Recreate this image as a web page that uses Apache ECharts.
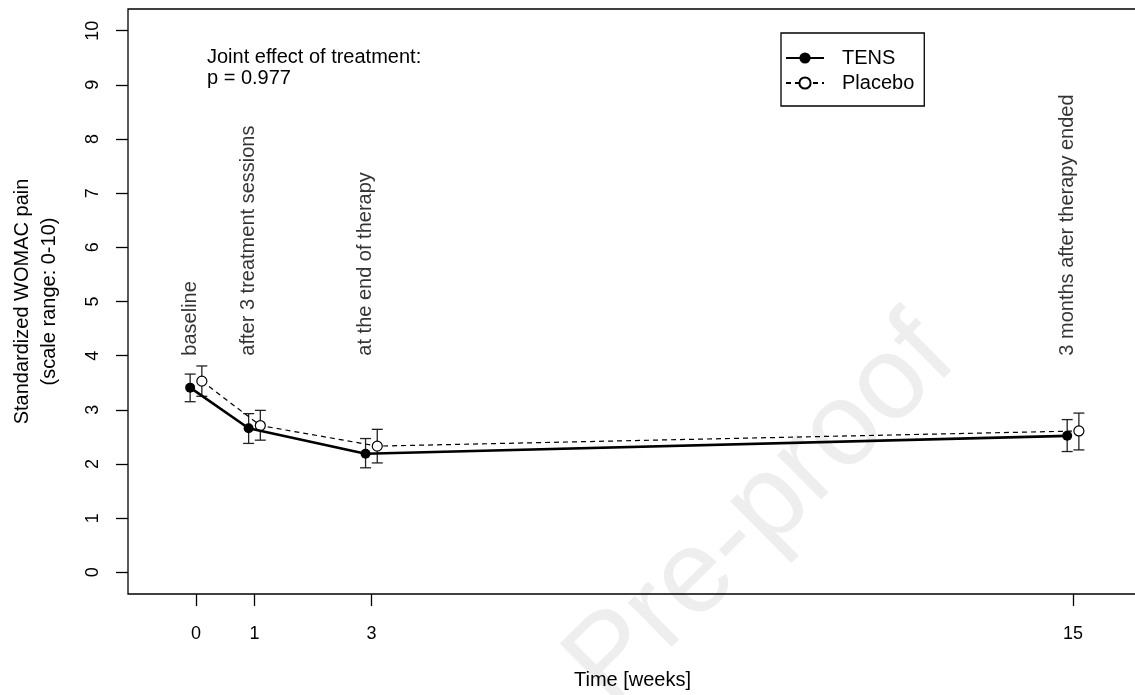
<!DOCTYPE html>
<html>
<head>
<meta charset="utf-8">
<script src="https://cdn.jsdelivr.net/npm/echarts@6/dist/echarts.min.js"></script>
<style>
  html, body { margin: 0; padding: 0; background: #fff; }
  #main { width: 1135px; height: 695px; }
</style>
</head>
<body>
<div id="main"></div>
<script>
// ▼ data
const aWeeks = [0, 1, 3, 15];
const aTens = [3.41, 2.66, 2.19, 2.52];
const aTensLow = [3.15, 2.38, 1.93, 2.23];
const aTensHigh = [3.66, 2.93, 2.47, 2.82];
const aPlacebo = [3.53, 2.71, 2.33, 2.61];
const aPlaceboLow = [3.25, 2.44, 2.02, 2.26];
const aPlaceboHigh = [3.81, 2.99, 2.64, 2.94];
const aYTicks = [0, 1, 2, 3, 4, 5, 6, 7, 8, 9, 10];
const aXTicks = [0, 1, 3, 15];
const aNotes = ['baseline', 'after 3 treatment sessions', 'at the end of therapy', '3 months after therapy ended'];
const iNoteY = 4;

const sFont = 'Liberation Sans, Arial, Helvetica, sans-serif';
const dodge = 0.1; // TENS a bit left, Placebo a bit right

const tensPts = aWeeks.map((w, i) => [w - dodge, aTens[i]]);
const placeboPts = aWeeks.map((w, i) => [w + dodge, aPlacebo[i]]);
const tensBars = aWeeks.map((w, i) => [w - dodge, aTensLow[i], aTensHigh[i]]);
const placeboBars = aWeeks.map((w, i) => [w + dodge, aPlaceboLow[i], aPlaceboHigh[i]]);
const notePts = aWeeks.map((w, i) => ({ value: [w, iNoteY], name: aNotes[i] }));

function errorBar(params, api) {
    const x = api.value(0);
    const lo = api.coord([x, api.value(1)]);
    const hi = api.coord([x, api.value(2)]);
    const w = 5.5;
    const st = { stroke: '#222', lineWidth: 1.3 };
    return {
        type: 'group',
        children: [
            { type: 'line', shape: { x1: lo[0], y1: lo[1], x2: hi[0], y2: hi[1] }, style: st },
            { type: 'line', shape: { x1: lo[0] - w, y1: lo[1], x2: lo[0] + w, y2: lo[1] }, style: st },
            { type: 'line', shape: { x1: hi[0] - w, y1: hi[1], x2: hi[0] + w, y2: hi[1] }, style: st },
        ],
    };
}

const myChart = echarts.init(document.getElementById('main'), null, { renderer: 'canvas' });
const option = {
    animation: false,
    backgroundColor: '#fff',
    textStyle: { fontFamily: sFont, color: '#000' },
    graphic: [
        {
            type: 'text', x: 762, y: 512, rotation: 0.78, z: -10, silent: true,
            style: { text: 'Pre-proof', font: '118px ' + sFont, fill: '#eeeeee', align: 'center', verticalAlign: 'middle' },
        },
        {
            type: 'text', left: 207, top: 47,
            style: { text: 'Joint effect of treatment:\np = 0.977', font: '20px ' + sFont, fill: '#000', lineHeight: 21 },
        },
    ],
    grid: {
        show: true, left: 128, top: 9, right: -2, bottom: 101,
        outerBoundsMode: 'none',
        borderColor: '#000', borderWidth: 1.3, backgroundColor: 'transparent',
    },
    legend: {
        orient: 'vertical', left: 781, top: 33,
        padding: [15, 10, 13, 4],
        borderColor: '#000', borderWidth: 1.3,
        itemWidth: 38, itemHeight: 14, itemGap: 5,
        textStyle: { fontSize: 20, fontFamily: sFont, color: '#000', padding: [0, 0, 0, 13] },
        data: ['TENS', 'Placebo'],
    },
    xAxis: {
        type: 'value', min: -1.163, max: 16.094,
        axisLine: { show: false, onZero: false },
        splitLine: { show: false },
        axisTick: { show: true, length: 12, customValues: aXTicks, lineStyle: { color: '#000', width: 1.3 } },
        axisLabel: { customValues: aXTicks, fontSize: 18, color: '#000', margin: 31, fontFamily: sFont },
        name: 'Time [weeks]', nameLocation: 'middle', nameGap: 76,
        nameTextStyle: { fontSize: 20, color: '#000', fontFamily: sFont },
    },
    yAxis: {
        type: 'value', min: -0.4, max: 10.4,
        axisLine: { show: false, onZero: false },
        splitLine: { show: false },
        axisTick: { show: true, length: 12, customValues: aYTicks, lineStyle: { color: '#000', width: 1.3 } },
        axisLabel: { customValues: aYTicks, rotate: 90, fontSize: 18, color: '#000', margin: 26, fontFamily: sFont },
        name: 'Standardized WOMAC pain\n(scale range: 0-10)', nameLocation: 'middle', nameRotate: 90, nameGap: 65,
        nameTextStyle: { fontSize: 20, lineHeight: 27, color: '#000', fontFamily: sFont },
    },
    series: [
        {
            name: 'TENS err', type: 'custom', renderItem: errorBar, data: tensBars,
            encode: { x: 0, y: [1, 2] }, z: 1, silent: true,
        },
        {
            name: 'Placebo err', type: 'custom', renderItem: errorBar, data: placeboBars,
            encode: { x: 0, y: [1, 2] }, z: 1, silent: true,
        },
        {
            name: 'Placebo', type: 'line', data: placeboPts, z: 3,
            symbol: 'circle', symbolSize: 10,
            lineStyle: { color: '#000', width: 1.2, type: [5, 4] },
            itemStyle: { color: '#fff', borderColor: '#000', borderWidth: 1.2 },
        },
        {
            name: 'TENS', type: 'line', data: tensPts, z: 4,
            symbol: 'circle', symbolSize: 10,
            lineStyle: { color: '#000', width: 2.6 },
            itemStyle: { color: '#000', borderColor: '#000', borderWidth: 0 },
        },
        {
            name: 'notes', type: 'scatter', data: notePts, symbolSize: 0, silent: true, z: 5,
            label: {
                show: true, formatter: p => p.name, rotate: 90, position: [0, 0], offset: [0, -6],
                align: 'left', verticalAlign: 'middle', fontSize: 20, color: '#000', fontFamily: sFont,
            },
        },
    ],
};
myChart.setOption(option);
</script>
</body>
</html>
